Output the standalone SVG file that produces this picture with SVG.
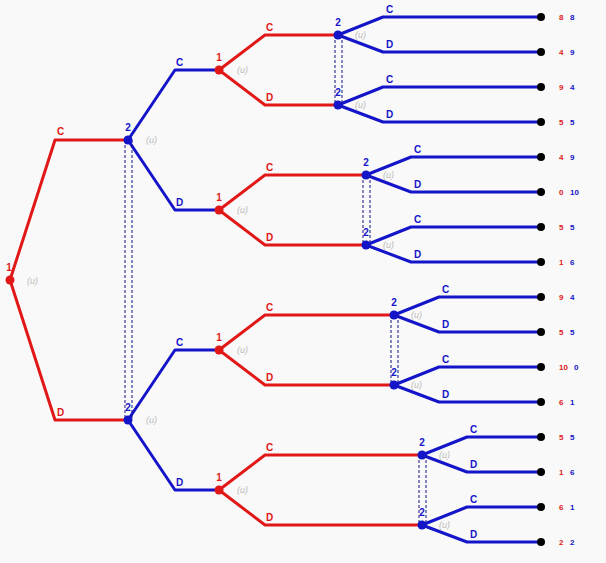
<svg xmlns="http://www.w3.org/2000/svg" width="606" height="563" viewBox="0 0 606 563">
<style>
.r{fill:none;stroke:#e01818;stroke-width:3;stroke-linejoin:round}
.b{fill:none;stroke:#1414c8;stroke-width:3;stroke-linejoin:round}
.ds{fill:none;stroke:#101080;stroke-width:1;stroke-dasharray:3,2}
.nr{fill:#e01818}
.nb{fill:#1414c8}
.t{fill:#000}
text{font-family:"Liberation Sans",Arial,sans-serif;font-weight:bold}
.lr{fill:#e01818;font-size:10px}
.lb{fill:#1414c8;font-size:10px}
.u{fill:#bbbbbb;font-size:9px;font-style:italic;font-weight:normal}
.pr{fill:#e01818;font-size:8px}
.pb{fill:#1414c8;font-size:8px}
</style>
<rect width="606" height="563" fill="#f9f9f9"/>
<g id="connectors">
<path class="r" d="M10,280 L55,140 H128 M10,280 L55,420 H128"/>
<path class="b" d="M128,140 L175,70 H219 M128,140 L175,210 H219 M128,420 L175,350 H219 M128,420 L175,490 H219"/>
<path class="r" d="M219,70 L265,35 H338 M219,70 L265,105 H338 M219,210 L265,175 H366 M219,210 L265,245 H366 M219,350 L265,315 H394 M219,350 L265,385 H394 M219,490 L265,455 H422 M219,490 L265,525 H422"/>
<path class="b" d="M338,35 L383,17 H541 M338,35 L383,52 H541 M338,105 L383,87 H541 M338,105 L383,122 H541
M366,175 L411,157 H541 M366,175 L411,192 H541 M366,245 L411,227 H541 M366,245 L411,262 H541
M394,315 L439,297 H541 M394,315 L439,332 H541 M394,385 L439,367 H541 M394,385 L439,402 H541
M422,455 L467,437 H541 M422,455 L467,472 H541 M422,525 L467,507 H541 M422,525 L467,542 H541"/>
<path class="ds" d="M125,140 V420 M132,140 V420 M335,35 V105 M342,35 V105 M363,175 V245 M370,175 V245 M391,315 V385 M398,315 V385 M419,455 V525 M426,455 V525"/>
</g>
<g id="edge-labels">
<text class="lr" x="57" y="135">C</text><text class="lr" x="57" y="416">D</text>
<text class="lb" x="176" y="66">C</text><text class="lb" x="176" y="206">D</text>
<text class="lb" x="176" y="346">C</text><text class="lb" x="176" y="486">D</text>
<text class="lr" x="266" y="31">C</text><text class="lr" x="266" y="101">D</text>
<text class="lr" x="266" y="171">C</text><text class="lr" x="266" y="241">D</text>
<text class="lr" x="266" y="311">C</text><text class="lr" x="266" y="381">D</text>
<text class="lr" x="266" y="451">C</text><text class="lr" x="266" y="521">D</text>
<text class="lb" x="386" y="13">C</text><text class="lb" x="386" y="48">D</text>
<text class="lb" x="386" y="83">C</text><text class="lb" x="386" y="118">D</text>
<text class="lb" x="414" y="153">C</text><text class="lb" x="414" y="188">D</text>
<text class="lb" x="414" y="223">C</text><text class="lb" x="414" y="258">D</text>
<text class="lb" x="442" y="293">C</text><text class="lb" x="442" y="328">D</text>
<text class="lb" x="442" y="363">C</text><text class="lb" x="442" y="398">D</text>
<text class="lb" x="470" y="433">C</text><text class="lb" x="470" y="468">D</text>
<text class="lb" x="470" y="503">C</text><text class="lb" x="470" y="538">D</text>
</g>
<g id="n-root"><circle class="nr" cx="10" cy="280" r="4.5"/><text class="lr" x="9" y="271" text-anchor="middle" font-size="9">1</text><text class="u" x="27" y="284">(u)</text></g>
<g id="n-2a"><circle class="nb" cx="128" cy="140" r="4.5"/><text class="lb" x="128" y="131" text-anchor="middle">2</text><text class="u" x="146" y="143">(u)</text></g>
<g id="n-2b"><circle class="nb" cx="128" cy="420" r="4.5"/><text class="lb" x="128" y="411" text-anchor="middle">2</text><text class="u" x="146" y="423">(u)</text></g>
<g id="n-1a"><circle class="nr" cx="219" cy="70" r="4.5"/><text class="lr" x="219" y="61" text-anchor="middle">1</text><text class="u" x="237" y="73">(u)</text></g>
<g id="n-1b"><circle class="nr" cx="219" cy="210" r="4.5"/><text class="lr" x="219" y="201" text-anchor="middle">1</text><text class="u" x="237" y="213">(u)</text></g>
<g id="n-1c"><circle class="nr" cx="219" cy="350" r="4.5"/><text class="lr" x="219" y="341" text-anchor="middle">1</text><text class="u" x="237" y="353">(u)</text></g>
<g id="n-1d"><circle class="nr" cx="219" cy="490" r="4.5"/><text class="lr" x="219" y="481" text-anchor="middle">1</text><text class="u" x="237" y="493">(u)</text></g>
<g id="n-2c"><circle class="nb" cx="338" cy="35" r="4.5"/><text class="lb" x="338" y="26" text-anchor="middle">2</text><text class="u" x="355" y="38">(u)</text></g>
<g id="n-2d"><circle class="nb" cx="338" cy="105" r="4.5"/><text class="lb" x="338" y="96" text-anchor="middle">2</text><text class="u" x="355" y="108">(u)</text></g>
<g id="n-2e"><circle class="nb" cx="366" cy="175" r="4.5"/><text class="lb" x="366" y="166" text-anchor="middle">2</text><text class="u" x="383" y="178">(u)</text></g>
<g id="n-2f"><circle class="nb" cx="366" cy="245" r="4.5"/><text class="lb" x="366" y="236" text-anchor="middle">2</text><text class="u" x="383" y="248">(u)</text></g>
<g id="n-2g"><circle class="nb" cx="394" cy="315" r="4.5"/><text class="lb" x="394" y="306" text-anchor="middle">2</text><text class="u" x="411" y="318">(u)</text></g>
<g id="n-2h"><circle class="nb" cx="394" cy="385" r="4.5"/><text class="lb" x="394" y="376" text-anchor="middle">2</text><text class="u" x="411" y="388">(u)</text></g>
<g id="n-2i"><circle class="nb" cx="422" cy="455" r="4.5"/><text class="lb" x="422" y="446" text-anchor="middle">2</text><text class="u" x="439" y="458">(u)</text></g>
<g id="n-2j"><circle class="nb" cx="422" cy="525" r="4.5"/><text class="lb" x="422" y="516" text-anchor="middle">2</text><text class="u" x="439" y="528">(u)</text></g>
<g id="leaves">
<g id="t1"><circle class="t" cx="541" cy="17" r="4"/><text class="pr" x="559" y="20">8</text><text class="pb" x="570" y="20">8</text></g>
<g id="t2"><circle class="t" cx="541" cy="52" r="4"/><text class="pr" x="559" y="55">4</text><text class="pb" x="570" y="55">9</text></g>
<g id="t3"><circle class="t" cx="541" cy="87" r="4"/><text class="pr" x="559" y="90">9</text><text class="pb" x="570" y="90">4</text></g>
<g id="t4"><circle class="t" cx="541" cy="122" r="4"/><text class="pr" x="559" y="125">5</text><text class="pb" x="570" y="125">5</text></g>
<g id="t5"><circle class="t" cx="541" cy="157" r="4"/><text class="pr" x="559" y="160">4</text><text class="pb" x="570" y="160">9</text></g>
<g id="t6"><circle class="t" cx="541" cy="192" r="4"/><text class="pr" x="559" y="195">0</text><text class="pb" x="570" y="195">10</text></g>
<g id="t7"><circle class="t" cx="541" cy="227" r="4"/><text class="pr" x="559" y="230">5</text><text class="pb" x="570" y="230">5</text></g>
<g id="t8"><circle class="t" cx="541" cy="262" r="4"/><text class="pr" x="559" y="265">1</text><text class="pb" x="570" y="265">6</text></g>
<g id="t9"><circle class="t" cx="541" cy="297" r="4"/><text class="pr" x="559" y="300">9</text><text class="pb" x="570" y="300">4</text></g>
<g id="t10"><circle class="t" cx="541" cy="332" r="4"/><text class="pr" x="559" y="335">5</text><text class="pb" x="570" y="335">5</text></g>
<g id="t11"><circle class="t" cx="541" cy="367" r="4"/><text class="pr" x="559" y="370">10</text><text class="pb" x="574" y="370">0</text></g>
<g id="t12"><circle class="t" cx="541" cy="402" r="4"/><text class="pr" x="559" y="405">6</text><text class="pb" x="570" y="405">1</text></g>
<g id="t13"><circle class="t" cx="541" cy="437" r="4"/><text class="pr" x="559" y="440">5</text><text class="pb" x="570" y="440">5</text></g>
<g id="t14"><circle class="t" cx="541" cy="472" r="4"/><text class="pr" x="559" y="475">1</text><text class="pb" x="570" y="475">6</text></g>
<g id="t15"><circle class="t" cx="541" cy="507" r="4"/><text class="pr" x="559" y="510">6</text><text class="pb" x="570" y="510">1</text></g>
<g id="t16"><circle class="t" cx="541" cy="542" r="4"/><text class="pr" x="559" y="545">2</text><text class="pb" x="570" y="545">2</text></g>
</g>
</svg>
